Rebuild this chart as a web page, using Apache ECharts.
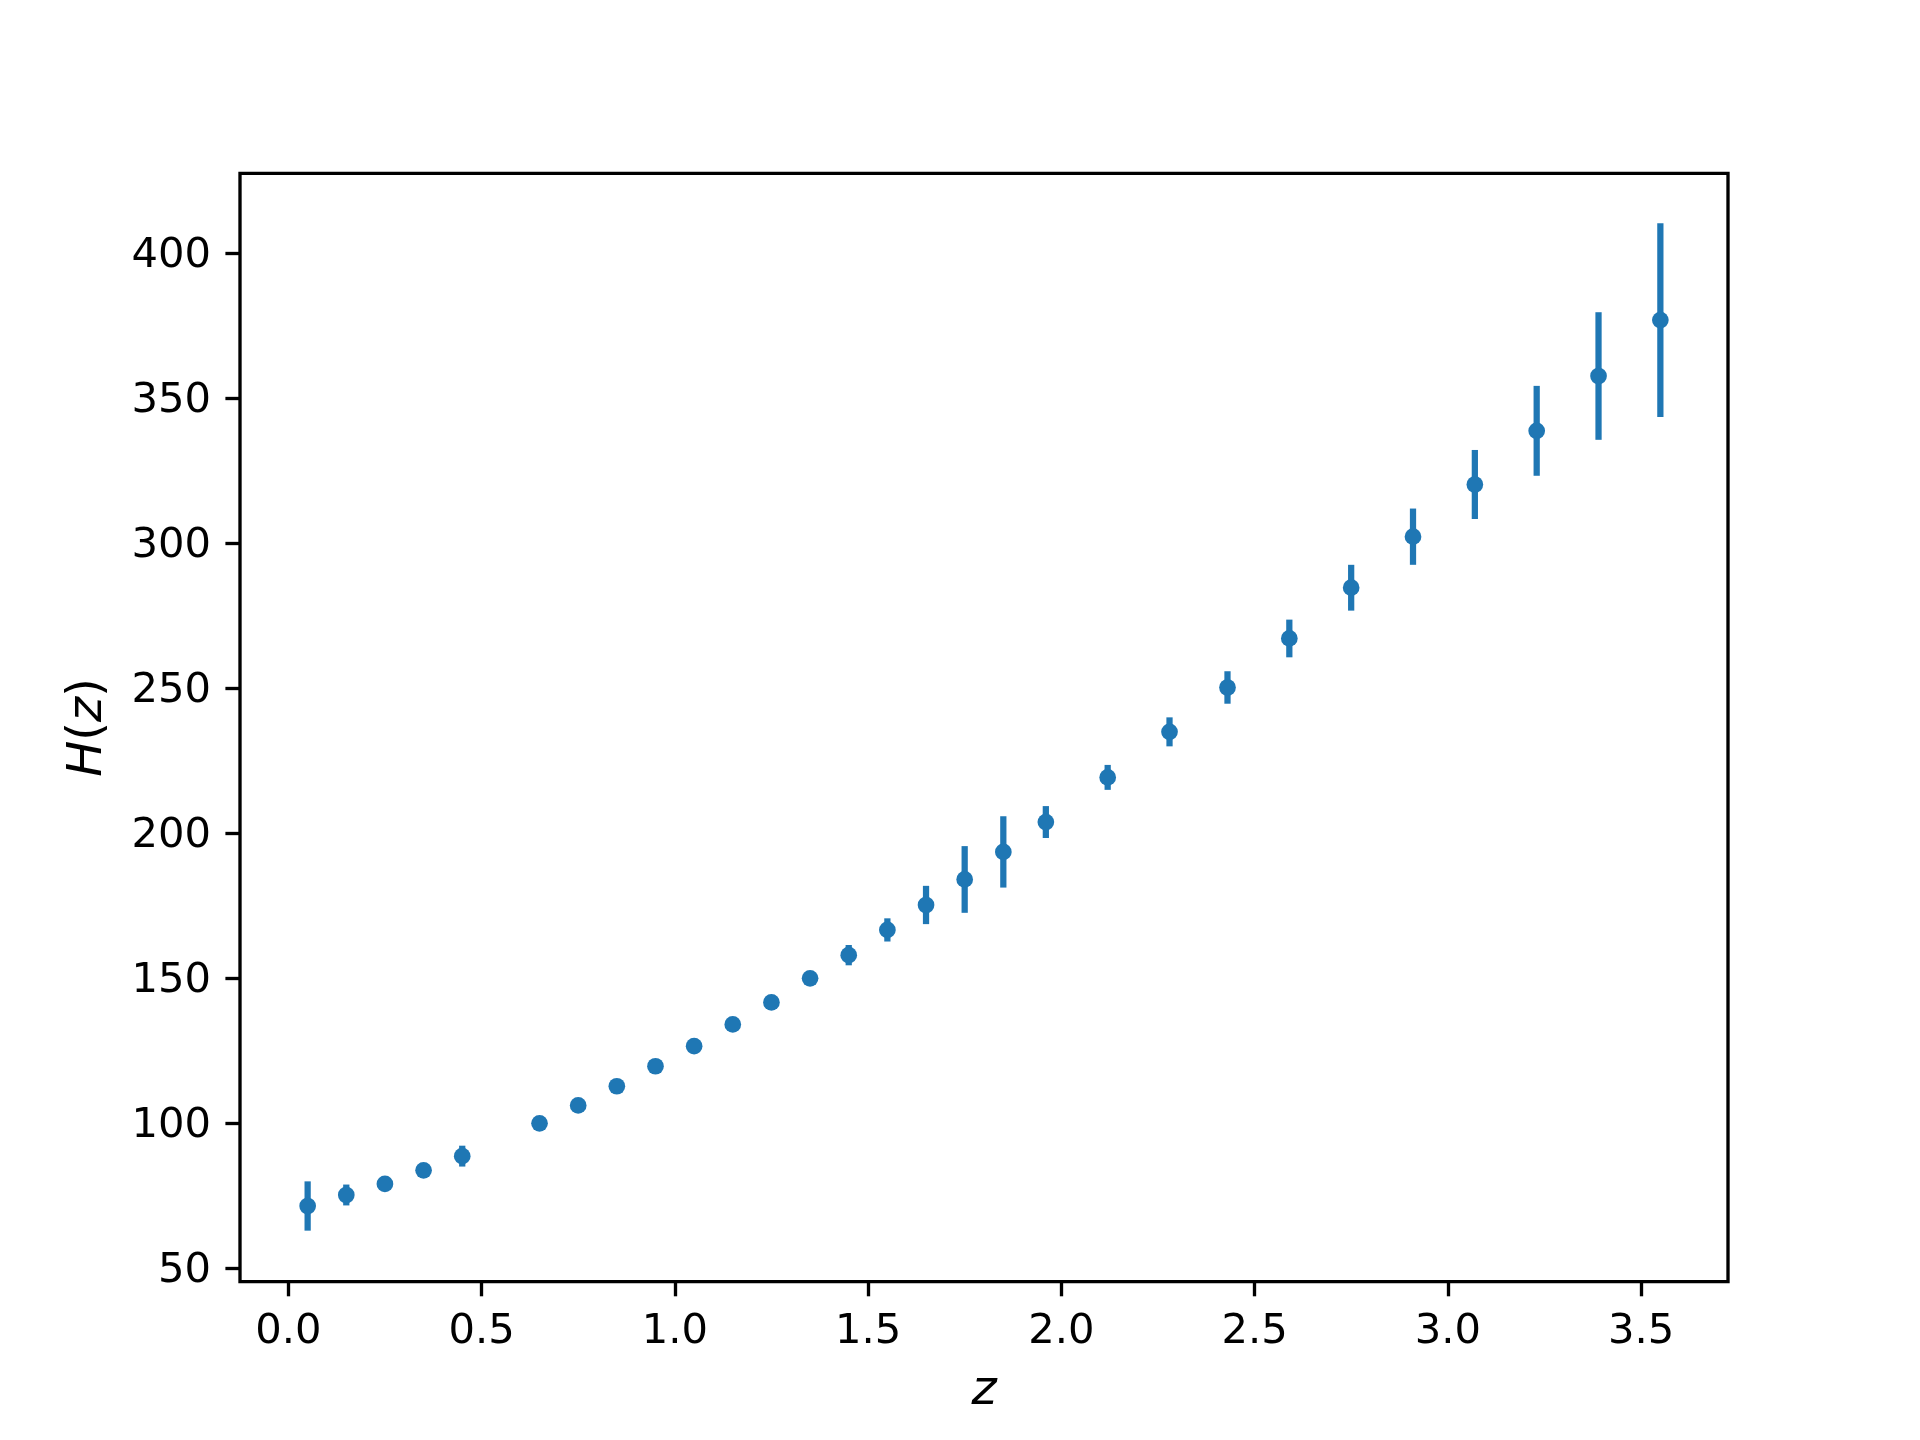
<!DOCTYPE html>
<html>
<head>
<meta charset="utf-8">
<script src="https://cdn.jsdelivr.net/npm/echarts@6/dist/echarts.min.js"></script>
<style>html,body{margin:0;padding:0;background:#fff;}#c{width:1920px;height:1440px;}</style>
</head>
<body>
<div id="c"></div>
<script>
const zValues = [0.05,0.15,0.25,0.35,0.45,0.65,0.75,0.85,0.95,1.05,1.15,1.25,1.35,1.45,1.55,1.65,1.75,1.85,1.96,2.12,2.28,2.43,2.59,2.75,2.91,3.07,3.23,3.39,3.55];
const hValues = [71.5,75.3,79.1,83.8,88.7,100.0,106.2,112.8,119.7,126.6,134.1,141.7,150.0,158.0,166.7,175.3,184.1,193.6,203.9,219.3,235.0,250.3,267.2,284.7,302.3,320.3,338.8,357.7,377.0];
const hErrors = [8.5,3.6,2.0,1.5,3.6,1.5,1.5,1.5,1.5,1.5,1.5,1.5,2.0,3.5,4.0,6.6,11.5,12.3,5.5,4.3,5.0,5.6,6.5,7.9,9.7,11.9,15.5,22.0,33.4];
const xTicks = [0.0,0.5,1.0,1.5,2.0,2.5,3.0,3.5];
const yTicks = [50,100,150,200,250,300,350,400];

const COLOR = '#1f77b4';
const FS = 41.67;
const NFS = 48;
const LW = 3.33;
const FONT = 'DejaVu Sans';

const points = zValues.map((z,i)=>[z,hValues[i]]);
const bars = zValues.map((z,i)=>[z,hValues[i]-hErrors[i],hValues[i]+hErrors[i]]);

const chart = echarts.init(document.getElementById('c'), null, {renderer:'canvas'});
chart.setOption({
  backgroundColor:'#ffffff',
  animation:false,
  grid:{left:240, right:192, top:173.3, bottom:158.3, show:true, borderColor:'#000', borderWidth:LW, backgroundColor:'transparent'},
  xAxis:{
    type:'value', min:-0.125, max:3.725,
    axisLine:{show:false, onZero:false},
    splitLine:{show:false},
    axisTick:{show:true, length:14.6, inside:false, customValues:xTicks, lineStyle:{color:'#000', width:LW}},
    axisLabel:{show:true, customValues:xTicks, margin:29, color:'#000', fontSize:FS, fontFamily:FONT, formatter:v=>v.toFixed(1)},
    name:'z', nameLocation:'middle', nameGap:110,
    nameTextStyle:{fontSize:NFS, fontFamily:FONT, fontStyle:'italic', color:'#000', verticalAlign:'middle'}
  },
  yAxis:{
    type:'value', min:45.4, max:427.6,
    axisLine:{show:false, onZero:false},
    splitLine:{show:false},
    axisTick:{show:true, length:14.6, inside:false, customValues:yTicks, lineStyle:{color:'#000', width:LW}},
    axisLabel:{show:true, customValues:yTicks, margin:29, color:'#000', fontSize:FS, fontFamily:FONT,
      formatter:v=>'{t|'+String(v)+'}',
      rich:{t:{fontSize:FS, fontFamily:FONT, color:'#000', padding:[6,0,0,0]}}},
    name:'{i|H}{n|(}{i|z}{n|)}', nameLocation:'middle', nameGap:151, nameRotate:90,
    nameTextStyle:{fontSize:NFS, fontFamily:FONT, color:'#000', verticalAlign:'middle',
      rich:{i:{fontSize:NFS, fontFamily:FONT, fontStyle:'italic', color:'#000'},
            n:{fontSize:NFS, fontFamily:FONT, color:'#000'}}}
  },
  series:[
    {
      type:'custom',
      data:bars,
      renderItem:function(params, api){
        const x = api.value(0);
        const p1 = api.coord([x, api.value(1)]);
        const p2 = api.coord([x, api.value(2)]);
        return {type:'line', shape:{x1:p1[0], y1:p1[1], x2:p2[0], y2:p2[1]},
          style:{stroke:COLOR, lineWidth:6.25, lineCap:'butt'}};
      },
      z:2
    },
    {
      type:'scatter',
      data:points,
      symbol:'circle',
      symbolSize:16.7,
      itemStyle:{color:COLOR, opacity:1},
      z:3
    }
  ]
});
</script>
</body>
</html>
